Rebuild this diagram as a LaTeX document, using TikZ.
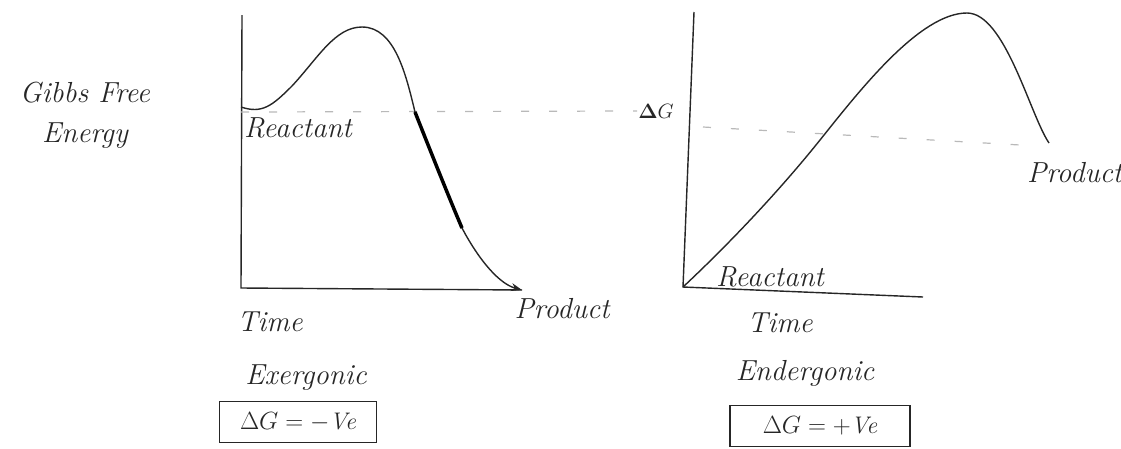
\documentclass[tikz,border=0pt]{standalone}
\usepackage{tikz}
\usetikzlibrary{arrows.meta,positioning}
\tikzset{
  hand/.style={font=\itshape\fontsize{29}{40}\selectfont, inner sep=1pt, text=black!85},
  axisline/.style={line width=1.4pt, black!85},
  energy/.style={line width=1.4pt, black!85},
  hotpart/.style={line width=3.5pt, black},
  levelline/.style={gray!55, line width=1.2pt, dash pattern=on 8pt off 20pt},
  signbox/.style={hand, font=\itshape\fontsize{24}{28}\selectfont, draw=black!85, line width=1.5pt,
    minimum height=41pt, inner sep=2pt},
}

\begin{document}
\begin{tikzpicture}[x=1pt, y=-1pt]
  \useasboundingbox (0,0) rectangle (1121,448);
  % exergonic axes
  \coordinate (ltop) at (242,15);
  \coordinate (lorig) at (241,288);
  \coordinate (lend) at (522,290);
  \draw[axisline] (ltop) -- (lorig) -- (lend);
  % endergonic axes
  \coordinate (rtop) at (694,12);
  \coordinate (rorig) at (683,287);
  \coordinate (rend) at (923,297);
  \draw[axisline] (rtop) -- (rorig) -- (rend);

  % free energy levels
  \node[hand, font=\fontsize{20}{22}\selectfont] (dg) at (656,111) {$\mathbf{\Delta}\boldmath G$};
  \coordinate (lvl) at (241,112);
  \coordinate (rlvl) at (703,127);
  \coordinate (rlvlend) at (1020,145);
  \draw[levelline] (lvl) -- (dg.west);
  \draw[levelline] (rlvl) -- (rlvlend);

  % exergonic curve
  \draw[energy, -{Stealth[length=11pt, width=8pt]}] (lvl) ++(0,-5)
    .. controls (262,114) and (272,106) .. (292,86)
    .. controls (318,58) and (335,27) .. (362,27)
    .. controls (395,27) and (406,75) .. (415,112)
    .. controls (430,150) and (450,200) .. (462,228)
    .. controls (480,262) and (500,284) .. (lend);
  \draw[hotpart] (415,112) .. controls (430,150) and (450,200) .. (462,228);
  % endergonic curve
  \draw[energy] (rorig)
    .. controls (730,243) and (780,190) .. (820,140)
    .. controls (860,90) and (920,13) .. (967,13)
    .. controls (1005,13) and (1030,115) .. (1049,143);

  % labels
  \node[hand, align=center] (gibbs) at (85,115) {Gibbs Free\\Energy};
  \node[hand, anchor=west] (lreact) at (243,128) {Reactant};
  \node[hand] (lprod) at (562,309) {Product};
  \node[hand] (ltime) at (270,322) {Time};
  \node[hand] (lexer) at (306,378) {Exergonic};
  \node[signbox, minimum width=157pt] (lsign) at (298,422) {$\Delta G = -$Ve};

  \node[hand] (rreact) at (770,277) {Reactant};
  \node[hand, anchor=west] (rprod) at (1026,173) {Product};
  \node[hand] (rtime) at (780,323) {Time};
  \node[hand] (render) at (805,373) {Endergonic};
  \node[signbox, minimum width=180pt] (rsign) at (820,426) {$\Delta G = +$Ve};
\end{tikzpicture}
\end{document}
